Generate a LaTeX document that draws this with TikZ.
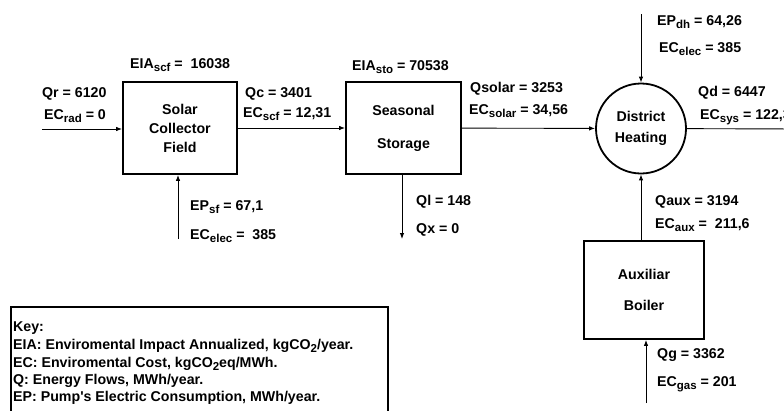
\documentclass[tikz,border=0pt]{standalone}
\usepackage{fontspec}
\setmainfont{Liberation Sans}
\usetikzlibrary{arrows.meta,positioning,shapes.geometric}
\newcommand\lowtext[1]{\raisebox{-3pt}{\fontsize{11.5}{12}\selectfont #1}}

\begin{document}
\begin{tikzpicture}[x=1pt,y=-1pt,
  every node/.style={font=\bfseries\fontsize{14.2}{16}\selectfont},
  blk/.style={draw,line width=1.8pt,align=center,minimum width=114pt,minimum height=92pt,inner sep=0pt},
  hub/.style={draw,circle,line width=1.8pt,align=center,minimum size=90pt,inner sep=0pt},
  lbl/.style={anchor=base west,inner sep=0pt},
  arrow/.style={-{Latex[length=6pt,width=4.5pt]},line width=0.9pt},
  flow/.style={line width=0.9pt}
]
  \useasboundingbox (0,0) rectangle (784,410);
  % blocks
  \node[blk] (scf) at (180,128) {Solar\\[3pt]Collector\\[3pt]Field};
  \node[blk,minimum width=115pt] (sto) at (403.5,128) {Seasonal\\[17pt]Storage};
  \node[hub] (dh) at (641,128.5) {District\\[5pt]Heating};
  \node[blk,minimum width=120pt,minimum height=98pt] (boil) at (644,290) {Auxiliar\\[15pt]Boiler};
  % free ends
  \coordinate (qr) at (42,129);
  \coordinate (qd) at (800,129);
  \coordinate (epdh) at (641,14);
  \coordinate (epsf) at (178,239);
  \coordinate (ql) at (402,239);
  \coordinate (qg) at (646,403);
  % connectors
  \draw[arrow] (qr) -- (qr -| scf.west);
  \draw[arrow] (scf) -- (sto);
  \draw[arrow] (sto) -- (dh);
  \draw[flow] (dh) -- (qd);
  \draw[arrow] (epdh) -- (dh);
  \draw[arrow] (epsf) -- (epsf |- scf.south);
  \draw[arrow] (ql |- sto.south) -- (ql);
  \draw[arrow] (boil.north -| dh) -- (dh.south);
  \draw[arrow] (qg) -- (qg |- boil.south);
  % labels
  \node[lbl] (eiascf) at (130,68) {EIA\lowtext{scf} =\ \ 16038};
  \node[lbl] (qrl) at (42,97) {Qr = 6120};
  \node[lbl] (ecrad) at (44,119) {EC\lowtext{rad} = 0};
  \node[lbl] (qc) at (245,97) {Qc = 3401};
  \node[lbl] (ecscf) at (243,117) {EC\lowtext{scf} = 12,31};
  \node[lbl] (eiasto) at (352,70) {EIA\lowtext{sto} = 70538};
  \node[lbl] (qsolar) at (470,92) {Qsolar = 3253};
  \node[lbl] (ecsolar) at (469,114) {EC\lowtext{solar} = 34,56};
  \node[lbl] (epdhl) at (657,25) {EP\lowtext{dh} = 64,26};
  \node[lbl] (ecelecdh) at (659,52) {EC\lowtext{elec} =\ 385};
  \node[lbl] (qdl) at (698,96) {Qd = 6447};
  \node[lbl] (ecsys) at (700,119) {EC\lowtext{sys} = 122,3};
  \node[lbl] (epsfl) at (190,210) {EP\lowtext{sf} = 67,1};
  \node[lbl] (ecelecsf) at (190,239) {EC\lowtext{elec} =\ \ 385};
  \node[lbl] (qll) at (416,205) {Ql = 148};
  \node[lbl] (qx) at (416,233) {Qx = 0};
  \node[lbl] (qaux) at (655,205) {Qaux = 3194};
  \node[lbl] (ecaux) at (655,228) {EC\lowtext{aux} =\ \ 211,6};
  \node[lbl] (qgl) at (657,358) {Qg = 3362};
  \node[lbl] (ecgas) at (657,386) {EC\lowtext{gas} = 201};
  % key
  \draw[line width=1.6pt] (11,307) rectangle (388,430);
  \node[lbl] (key) at (13,331) {Key:};
  \node[lbl] (keyeia) at (13,349) {EIA: Enviromental Impact Annualized, kgCO\lowtext{2}/year.};
  \node[lbl] (keyec) at (13,367) {EC: Enviromental Cost, kgCO\lowtext{2}eq/MWh.};
  \node[lbl] (keyq) at (13,384) {Q: Energy Flows, MWh/year.};
  \node[lbl] (keyep) at (13,401) {EP: Pump\textquotesingle s Electric Consumption, MWh/year.};
\end{tikzpicture}
\end{document}
